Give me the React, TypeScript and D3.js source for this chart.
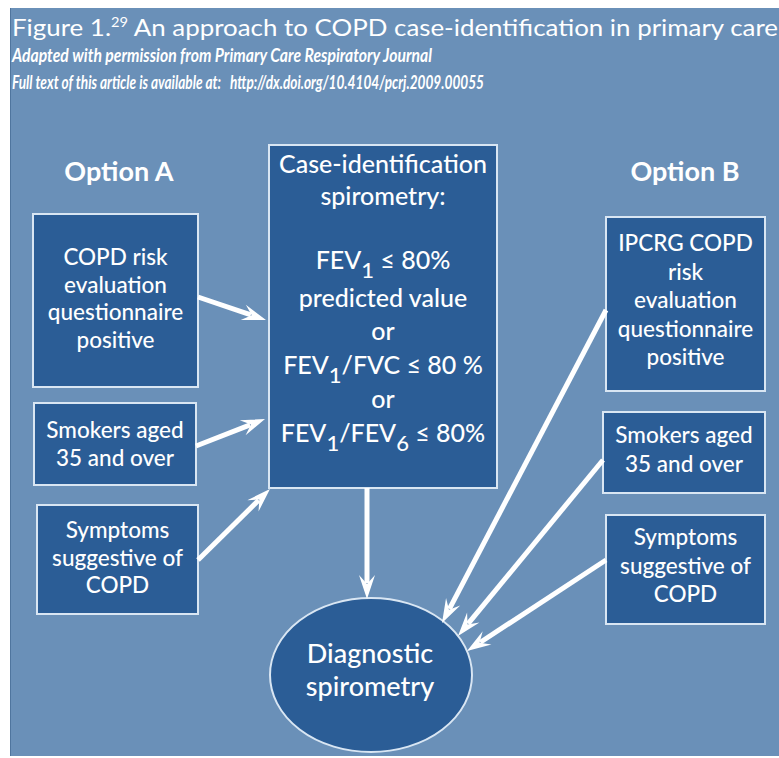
import React, { useEffect, useRef } from 'react';
import * as d3 from 'd3';

// Texts of the diagram (underscore + char = subscript)
const titleMain = 'Figure 1.';
const titleSup = '29';
const titleRest = ' An approach to COPD case-identification in primary care';
const subtitleLines = [
  'Adapted with permission from Primary Care Respiratory Journal',
  'Full text of this article is available at:\u00a0\u00a0 http://dx.doi.org/10.4104/pcrj.2009.00055',
];
const optionLabels = ['Option A', 'Option B'];
const optionALines = [
  ['COPD risk', 'evaluation', 'questionnaire', 'positive'],
  ['Smokers aged', '35 and over'],
  ['Symptoms', 'suggestive of', 'COPD'],
];
const optionBLines = [
  ['IPCRG COPD', 'risk', 'evaluation', 'questionnaire', 'positive'],
  ['Smokers aged', '35 and over'],
  ['Symptoms', 'suggestive of', 'COPD'],
];
const centerLines = [
  'Case-identification',
  'spirometry:',
  '',
  'FEV_1 ≤ 80%',
  'predicted value',
  'or',
  'FEV_1/FVC ≤ 80 %',
  'or',
  'FEV_1/FEV_6 ≤ 80%',
];
const targetLines = ['Diagnostic', 'spirometry'];

// layout (pixels)
const W = 779;
const H = 758;
const BG = '#6a90b8';
const BOX = '#2b5d96';
const EDGE = '#d9e6f3';
const FONT = 'Lato, "Open Sans", sans-serif';

const leftBoxes = [
  { x0: 33, y0: 214, x1: 198, y1: 387, base: 265 },
  { x0: 34, y0: 403, x1: 196, y1: 485, base: 438 },
  { x0: 37, y0: 505, x1: 198, y1: 614, base: 538 },
];
const rightBoxes = [
  { x0: 606, y0: 217, x1: 765, y1: 391, base: 251 },
  { x0: 603, y0: 412, x1: 765, y1: 493, base: 443 },
  { x0: 606, y0: 515, x1: 765, y1: 624, base: 545 },
];
const centerBox = { x0: 269, y0: 145, x1: 497, y1: 488 };
const centerBaselines = [173, 205, 0, 269, 307, 340, 374, 408, 442];
const ellipse = { cx: 371, cy: 675, rx: 101, ry: 77 };

const arrows = [
  [198, 297, 266, 320],
  [196, 446, 265, 419],
  [198, 560, 270, 489],
  [367, 488, 367, 599],
  [606, 310, 442, 623],
  [603, 460, 458, 636],
  [606, 560, 467, 651],
];

function addRich(sel: d3.Selection<SVGTextElement, unknown, null, undefined>, str: string) {
  // split into normal / subscript parts; odd indexes are subscripts
  const parts = str.split(/_(.)/);
  let pending = 0;
  parts.forEach((p, i) => {
    if (!p) return;
    if (i % 2 === 1) {
      sel.append('tspan').attr('dy', 9 - pending).attr('font-size', 22).text(p);
      pending = 9;
    } else {
      sel.append('tspan').attr('dy', -pending).text(p);
      pending = 0;
    }
  });
}

const App = () => {
  const ref = useRef<SVGSVGElement>(null);

  useEffect(() => {
    const svg = d3.select(ref.current);
    svg.selectAll('*').remove();

    svg.append('rect').attr('width', W).attr('height', H).attr('fill', '#fff');
    svg.append('rect')
      .attr('x', 10).attr('y', 8).attr('width', W - 10).attr('height', 748)
      .attr('fill', BG);
    svg.append('line')
      .attr('x1', 10.5).attr('x2', 10.5).attr('y1', 8).attr('y2', 756)
      .attr('stroke', '#4f759e').attr('stroke-width', 1);

    // title block
    const t = svg.append('text')
      .attr('x', 12).attr('y', 36)
      .attr('fill', '#fff').attr('font-family', FONT).attr('font-size', 23)
      .attr('textLength', 766).attr('lengthAdjust', 'spacingAndGlyphs');
    t.append('tspan').text(titleMain);
    t.append('tspan').attr('font-size', 13).attr('dy', -9).text(titleSup);
    t.append('tspan').attr('dy', 9).text(titleRest);

    const subLen = [420, 472];
    subtitleLines.forEach((s, i) => {
      svg.append('text')
        .attr('x', 12).attr('y', 62 + i * 27)
        .attr('fill', '#fff').attr('font-family', FONT)
        .attr('font-size', 19).attr('font-style', 'italic').attr('font-weight', 700)
        .attr('textLength', subLen[i]).attr('lengthAdjust', 'spacingAndGlyphs')
        .text(s);
    });

    // option headers
    const optX = [119, 685];
    optionLabels.forEach((s, i) => {
      svg.append('text')
        .attr('x', optX[i]).attr('y', 181)
        .attr('text-anchor', 'middle')
        .attr('fill', '#fff').attr('font-family', FONT)
        .attr('font-size', 27).attr('font-weight', 700)
        .text(s);
    });

    const drawBox = (b: { x0: number; y0: number; x1: number; y1: number }) => {
      svg.append('rect')
        .attr('x', b.x0).attr('y', b.y0)
        .attr('width', b.x1 - b.x0).attr('height', b.y1 - b.y0)
        .attr('fill', BOX).attr('stroke', EDGE).attr('stroke-width', 2);
    };

    const drawLines = (lines: string[], cx: number, base: number, step: number) => {
      lines.forEach((s, i) => {
        svg.append('text')
          .attr('x', cx).attr('y', base + i * step)
          .attr('text-anchor', 'middle')
          .attr('fill', '#fff').attr('font-family', FONT).attr('font-size', 22.5)
          .attr('font-weight', 500)
          .text(s);
      });
    };

    leftBoxes.forEach((b, i) => {
      drawBox(b);
      drawLines(optionALines[i], (b.x0 + b.x1) / 2, b.base, 27.5);
    });
    rightBoxes.forEach((b, i) => {
      drawBox(b);
      drawLines(optionBLines[i], (b.x0 + b.x1) / 2, b.base, 28.5);
    });

    drawBox(centerBox);
    const ccx = (centerBox.x0 + centerBox.x1) / 2;
    centerLines.forEach((s, i) => {
      if (!s) return;
      const tx = svg.append('text')
        .attr('x', ccx).attr('y', centerBaselines[i])
        .attr('text-anchor', 'middle')
        .attr('fill', '#fff').attr('font-family', FONT).attr('font-size', 25)
        .attr('font-weight', 500);
      addRich(tx, s);
    });

    // ellipse target
    svg.append('ellipse')
      .attr('cx', ellipse.cx).attr('cy', ellipse.cy)
      .attr('rx', ellipse.rx).attr('ry', ellipse.ry)
      .attr('fill', BOX).attr('stroke', EDGE).attr('stroke-width', 2);
    targetLines.forEach((s, i) => {
      svg.append('text')
        .attr('x', ellipse.cx - 1).attr('y', 663 + i * 33)
        .attr('text-anchor', 'middle')
        .attr('fill', '#fff').attr('font-family', FONT).attr('font-size', 27)
        .attr('font-weight', 500)
        .text(s);
    });

    // arrows
    const head = 20;
    const half = 8;
    arrows.forEach(([x1, y1, x2, y2]) => {
      const ang = Math.atan2(y2 - y1, x2 - x1);
      const c = Math.cos(ang);
      const sn = Math.sin(ang);
      const bx = x2 - head * c;
      const by = y2 - head * sn;
      svg.append('line')
        .attr('x1', x1).attr('y1', y1).attr('x2', bx + 4 * c).attr('y2', by + 4 * sn)
        .attr('stroke', '#fff').attr('stroke-width', 5);
      const nx = -sn;
      const ny = c;
      const pts: [number, number][] = [
        [x2, y2],
        [bx + nx * half - 4 * c, by + ny * half - 4 * sn],
        [bx + 5 * c, by + 5 * sn],
        [bx - nx * half - 4 * c, by - ny * half - 4 * sn],
      ];
      svg.append('path')
        .attr('d', d3.line()(pts) + 'Z')
        .attr('fill', '#fff');
    });
  }, []);

  return (
    <svg
      ref={ref}
      width={W}
      height={H}
      style={{ position: 'absolute', left: 0, top: 0, display: 'block' }}
    />
  );
};

export default App;
